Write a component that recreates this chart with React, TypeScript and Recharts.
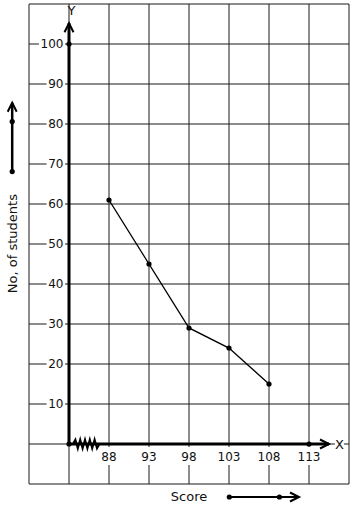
import {
  ComposedChart,
  Line,
  Scatter,
  XAxis,
  YAxis,
  CartesianGrid,
  ReferenceLine,
  ReferenceDot,
} from 'recharts';

// frequency polygon data
const scores = [88, 93, 98, 103, 108];
const students = [61, 45, 29, 24, 15];

// grid / tick values
const gridX = [78, 83, 88, 93, 98, 103, 108, 113, 118];
const gridY = [-10, 0, 10, 20, 30, 40, 50, 60, 70, 80, 90, 100, 110];
const xTickLabels = [88, 93, 98, 103, 108, 113];
const yTickLabels = [10, 20, 30, 40, 50, 60, 70, 80, 90, 100];

// axis origin and the kink (break) on the x axis
const originX = 83;
const originY = 0;
const breakX = [83.5, 83.8, 84.1, 84.4, 84.7, 85.0, 85.3, 85.6, 85.9, 86.2, 86.5, 86.8];
const breakY = [0, 1.1, -1.1, 1.1, -1.1, 1.1, -1.1, 1.1, -1.1, 1.1, -1.1, 0];

const FONT = 'DejaVu Sans, sans-serif';

const polyData = scores.map((s, i) => ({ x: s, y: students[i] }));
const breakData = breakX.map((x, i) => ({ x, y: breakY[i] }));
const xLabelData = xTickLabels.map((v) => ({ x: v, y: originY }));
const yLabelData = yTickLabels.map((v) => ({ x: originX, y: v }));

function XTickLabel(props: any) {
  const { cx, cy, payload } = props;
  const text = String(payload.x);
  const w = text.length * 7.7 + 2;
  return (
    <g>
      <rect x={cx - w / 2} y={cy + 3} width={w} height={18} fill="#fff" />
      <text x={cx} y={cy + 16.5} textAnchor="middle" fontSize={12} fontFamily={FONT} fill="#111">
        {text}
      </text>
    </g>
  );
}

function YTickLabel(props: any) {
  const { cx, cy, payload } = props;
  const text = String(payload.y);
  const w = text.length * 7.7 + 2;
  return (
    <g>
      <rect x={cx - 5 - w} y={cy - 7} width={w + 1} height={14} fill="#fff" />
      <text x={cx - 5.5} y={cy + 4.3} textAnchor="end" fontSize={12} fontFamily={FONT} fill="#111">
        {text}
      </text>
    </g>
  );
}

const Dot = (props: any) => <circle cx={props.cx} cy={props.cy} r={2.6} fill="#000" />;

const UpArrow = (props: any) => (
  <path
    d={`M${props.cx - 4.5},${props.cy + 9} L${props.cx},${props.cy} L${props.cx + 4.5},${props.cy + 9}`}
    stroke="#000"
    strokeWidth={2}
    fill="none"
  />
);

const RightArrow = (props: any) => (
  <path
    d={`M${props.cx - 9},${props.cy - 4.5} L${props.cx},${props.cy} L${props.cx - 9},${props.cy + 4.5}`}
    stroke="#000"
    strokeWidth={2}
    fill="none"
  />
);

const axisLetter = (letter: string, bg: boolean) => (props: any) => (
  <g>
    {bg && <rect x={props.cx - 4.5} y={props.cy - 6} width={9} height={12} fill="#fff" />}
    <text
      x={props.cx}
      y={props.cy + 4.5}
      textAnchor="middle"
      fontSize={13}
      fontFamily={FONT}
      fill="#111"
    >
      {letter}
    </text>
  </g>
);

const YTitle = (props: any) => (
  <text
    transform={`translate(${props.cx},${props.cy}) rotate(-90)`}
    y={4.5}
    textAnchor="middle"
    fontSize={13}
    fontFamily={FONT}
    fill="#111"
  >
    No, of students
  </text>
);

const XTitle = (props: any) => (
  <text x={props.cx} y={props.cy + 4.5} textAnchor="middle" fontSize={13} fontFamily={FONT} fill="#111">
    Score
  </text>
);

export default function App() {
  return (
    <div style={{ position: 'absolute', left: 0, top: 0, width: 354, height: 510, background: '#fff' }}>
      <ComposedChart
        width={354}
        height={510}
        margin={{ top: 4, right: 5, bottom: 26, left: 29 }}
      >
        <XAxis dataKey="x" type="number" domain={[78, 118]} ticks={gridX} hide />
        <YAxis dataKey="y" type="number" domain={[-10, 110]} ticks={gridY} hide />
        <CartesianGrid stroke="#1a1a1a" strokeWidth={1} />

        <Scatter data={xLabelData} shape={XTickLabel} isAnimationActive={false} />
        <Scatter data={yLabelData} shape={YTickLabel} isAnimationActive={false} />

        {/* axes */}
        <ReferenceLine
          segment={[{ x: originX, y: originY }, { x: originX, y: 105.2 }]}
          stroke="#000"
          strokeWidth={3}
          ifOverflow="visible"
        />
        <ReferenceLine
          segment={[{ x: originX, y: originY }, { x: 115.5, y: originY }]}
          stroke="#000"
          strokeWidth={3}
          ifOverflow="visible"
        />
        <ReferenceDot x={originX} y={105.2} shape={UpArrow} ifOverflow="visible" />
        <ReferenceDot x={115.5} y={originY} shape={RightArrow} ifOverflow="visible" />
        <ReferenceDot x={83.3} y={108.3} shape={axisLetter('Y', false)} ifOverflow="visible" />
        <ReferenceDot x={116.8} y={originY} shape={axisLetter('X', true)} ifOverflow="visible" />

        <Line
          data={breakData}
          dataKey="y"
          stroke="#000"
          strokeWidth={2}
          dot={false}
          isAnimationActive={false}
        />

        <ReferenceDot x={originX} y={100} shape={Dot} />
        <ReferenceDot x={originX} y={originY} shape={Dot} />
        <ReferenceDot x={113} y={originY} shape={Dot} />

        <Line
          data={polyData}
          dataKey="y"
          stroke="#000"
          strokeWidth={1.4}
          dot={Dot}
          isAnimationActive={false}
        />

        {/* axis titles with direction arrows */}
        <ReferenceDot x={75.9} y={50.1} shape={YTitle} ifOverflow="visible" />
        <ReferenceLine
          segment={[{ x: 75.9, y: 68.1 }, { x: 75.9, y: 85.3 }]}
          stroke="#000"
          strokeWidth={2.5}
          ifOverflow="visible"
        />
        <ReferenceDot x={75.9} y={85.3} shape={UpArrow} ifOverflow="visible" />
        <ReferenceDot x={75.9} y={80.6} shape={Dot} ifOverflow="visible" />
        <ReferenceDot x={75.9} y={68.1} shape={Dot} ifOverflow="visible" />

        <ReferenceDot x={98} y={-13} shape={XTitle} ifOverflow="visible" />
        <ReferenceLine
          segment={[{ x: 103.04, y: -13.25 }, { x: 111.75, y: -13.25 }]}
          stroke="#000"
          strokeWidth={2}
          ifOverflow="visible"
        />
        <ReferenceDot x={111.75} y={-13.25} shape={RightArrow} ifOverflow="visible" />
        <ReferenceDot x={103.04} y={-13.25} shape={Dot} ifOverflow="visible" />
        <ReferenceDot x={109.3} y={-13.25} shape={Dot} ifOverflow="visible" />
      </ComposedChart>
    </div>
  );
}
